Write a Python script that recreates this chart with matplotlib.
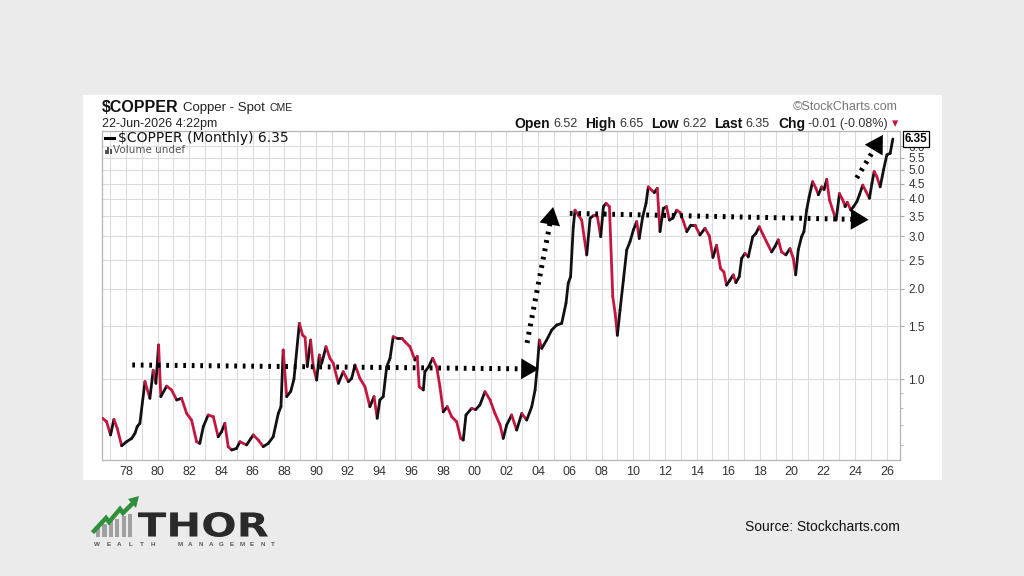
import numpy as np
import matplotlib
matplotlib.use("Agg")
import matplotlib.pyplot as plt
from matplotlib.collections import LineCollection
from matplotlib.patches import Rectangle, PathPatch, Polygon
from matplotlib.lines import Line2D
from matplotlib.ticker import FixedLocator, NullFormatter, FixedFormatter
from matplotlib.textpath import TextPath
from matplotlib.font_manager import FontProperties
from matplotlib.transforms import Affine2D, blended_transform_factory

plt.rcParams['font.family'] = ['Liberation Sans', 'DejaVu Sans']

# ---------------- data ----------------
years = [
    1976.53, 1976.78, 1977.03, 1977.24, 1977.45, 1977.73, 1978.04, 1978.36, 1978.57, 1978.71,
    1978.88, 1979.20, 1979.51, 1979.72, 1979.89, 1980.06, 1980.20, 1980.57, 1980.88, 1981.20,
    1981.51, 1981.83, 1982.14, 1982.46, 1982.66, 1982.88, 1983.19, 1983.51, 1983.82, 1984.03,
    1984.24, 1984.45, 1984.67, 1984.98, 1985.19, 1985.61, 1986.03, 1986.35, 1986.66, 1986.98,
    1987.29, 1987.61, 1987.78, 1987.92, 1988.14, 1988.40, 1988.60, 1988.94, 1989.15, 1989.30,
    1989.44, 1989.65, 1989.82, 1990.03, 1990.20, 1990.35, 1990.62, 1990.87, 1991.08, 1991.40,
    1991.71, 1992.03, 1992.24, 1992.45, 1992.76, 1993.08, 1993.39, 1993.65, 1993.85, 1994.02,
    1994.23, 1994.45, 1994.66, 1994.86, 1995.11, 1995.40, 1995.60, 1995.92, 1996.23, 1996.38,
    1996.50, 1996.76, 1996.86, 1997.10, 1997.35, 1997.60, 1997.81, 1998.02, 1998.27, 1998.55,
    1998.86, 1999.12, 1999.28, 1999.45, 1999.81, 2000.06, 2000.33, 2000.65, 2000.97, 2001.28,
    2001.60, 2001.80, 2002.02, 2002.33, 2002.65, 2002.97, 2003.28, 2003.60, 2003.81, 2003.95,
    2004.08, 2004.23, 2004.54, 2004.86, 2005.17, 2005.49, 2005.76, 2005.90, 2006.05, 2006.22,
    2006.33, 2006.54, 2006.75, 2007.07, 2007.28, 2007.53, 2007.74, 2007.95, 2008.12, 2008.29,
    2008.50, 2008.71, 2008.86, 2009.00, 2009.17, 2009.38, 2009.59, 2009.80, 2010.01, 2010.22,
    2010.38, 2010.60, 2010.81, 2010.95, 2011.17, 2011.33, 2011.52, 2011.69, 2011.90, 2012.10,
    2012.28, 2012.50, 2012.75, 2012.96, 2013.17, 2013.38, 2013.63, 2013.90, 2014.21, 2014.53,
    2014.80, 2015.03, 2015.26, 2015.51, 2015.72, 2015.89, 2016.10, 2016.31, 2016.48, 2016.69,
    2016.84, 2017.05, 2017.26, 2017.54, 2017.74, 2017.95, 2018.20, 2018.52, 2018.73, 2018.94,
    2019.15, 2019.36, 2019.63, 2019.89, 2020.10, 2020.25, 2020.41, 2020.62, 2020.77, 2020.94,
    2021.10, 2021.32, 2021.53, 2021.68, 2021.89, 2022.04, 2022.21, 2022.38, 2022.59, 2022.80,
    2023.01, 2023.22, 2023.37, 2023.50, 2023.73, 2023.90, 2024.11, 2024.27, 2024.48, 2024.69,
    2024.90, 2025.06, 2025.20, 2025.37, 2025.58, 2025.79, 2026.00, 2026.21, 2026.38,
]
prices = [
    0.739, 0.720, 0.650, 0.733, 0.684, 0.598, 0.617, 0.633, 0.658, 0.693,
    0.711, 0.980, 0.862, 1.070, 0.967, 1.300, 0.873, 0.947, 0.919, 0.851,
    0.862, 0.767, 0.729, 0.617, 0.609, 0.693, 0.758, 0.748, 0.641, 0.666,
    0.711, 0.594, 0.579, 0.586, 0.617, 0.602, 0.650, 0.625, 0.594, 0.609,
    0.641, 0.767, 0.808, 1.250, 0.873, 0.910, 1.000, 1.535, 1.400, 1.380,
    1.100, 1.350, 1.100, 0.992, 1.203, 1.128, 1.282, 1.173, 1.128, 0.967,
    1.058, 0.980, 1.005, 1.114, 1.005, 0.942, 0.808, 0.873, 0.739, 0.851,
    0.873, 1.099, 1.173, 1.385, 1.368, 1.368, 1.332, 1.282, 1.157, 1.190,
    0.942, 0.919, 1.058, 1.100, 1.173, 1.099, 0.942, 0.777, 0.808, 0.748,
    0.720, 0.633, 0.625, 0.758, 0.798, 0.790, 0.819, 0.907, 0.851, 0.767,
    0.702, 0.633, 0.702, 0.758, 0.675, 0.767, 0.729, 0.808, 0.919, 1.099,
    1.350, 1.266, 1.350, 1.458, 1.515, 1.535, 1.792, 2.090, 2.200, 3.230,
    3.670, 3.530, 3.400, 2.600, 3.450, 3.530, 3.490, 2.990, 3.770, 3.870,
    3.770, 1.886, 1.660, 1.400, 1.700, 2.140, 2.700, 2.880, 3.150, 3.360,
    2.950, 3.490, 3.870, 4.390, 4.280, 4.200, 4.340, 3.110, 3.720, 3.770,
    3.400, 3.450, 3.670, 3.600, 3.360, 3.110, 3.270, 3.270, 3.030, 3.190,
    3.010, 2.550, 2.800, 2.340, 2.280, 2.060, 2.140, 2.230, 2.100, 2.200,
    2.530, 2.630, 2.560, 2.990, 3.070, 3.230, 3.030, 2.800, 2.660, 2.770,
    2.920, 2.660, 2.600, 2.730, 2.530, 2.230, 2.700, 2.990, 3.110, 3.670,
    4.070, 4.570, 4.340, 4.130, 4.390, 4.300, 4.650, 3.970, 3.670, 3.400,
    4.170, 3.970, 3.770, 3.900, 3.670, 3.770, 3.920, 4.130, 4.450, 4.230,
    4.020, 4.510, 4.940, 4.750, 4.390, 5.000, 5.620, 5.680, 6.350,
]

x_ticks = list(range(1978, 2027, 2))
x_tick_labels = ['%02d' % (y % 100) for y in x_ticks]
y_ticks = [1.0, 1.5, 2.0, 2.5, 3.0, 3.5, 4.0, 4.5, 5.0, 5.5, 6.0]
y_tick_labels = ['%.1f' % v for v in y_ticks]
y_minor = [0.6, 0.7, 0.8, 0.9]

# annotation arrows (start, tip) in (year, price)
arrow_starts = [(1978.4, 1.114), (2003.3, 1.32), (2006.0, 3.58), (2024.1, 4.70)]
arrow_tips = [(2004.05, 1.08), (2004.95, 3.76), (2024.85, 3.41), (2025.75, 6.55)]

last_price = '6.35'

# ---------------- figure ----------------
W, H = 1024, 576
fig = plt.figure(figsize=(W / 100, H / 100), dpi=100)
fig.patch.set_facecolor('#ebebeb')
fig.add_artist(Rectangle((83 / W, 1 - 480 / H), (942 - 83) / W, (480 - 95) / H,
                         transform=fig.transFigure, facecolor='white',
                         edgecolor='none', zorder=0))

ax = fig.add_axes([102 / W, 1 - 460 / H, 798 / W, 329 / H])
ax.set_facecolor('white')
ax.set_yscale('log')
ax.set_xlim(1976.49, 2026.83)
ax.set_ylim(0.536, 6.75)

ax.xaxis.set_major_locator(FixedLocator(x_ticks))
ax.xaxis.set_major_formatter(FixedFormatter(x_tick_labels))
ax.xaxis.set_minor_locator(FixedLocator(list(range(1977, 2027))))
ax.yaxis.set_major_locator(FixedLocator(y_ticks))
ax.yaxis.set_major_formatter(FixedFormatter(y_tick_labels))
ax.yaxis.set_minor_locator(FixedLocator(y_minor))
ax.yaxis.set_minor_formatter(NullFormatter())
ax.yaxis.tick_right()

ax.tick_params(axis='x', which='both', length=0, pad=4, labelsize=9, labelcolor='#333333')
ax.tick_params(axis='y', which='major', length=3, pad=3, color='#aaaaaa',
               labelsize=8.5, labelcolor='#333333')
ax.tick_params(axis='y', which='minor', length=2, color='#aaaaaa')

ax.grid(True, which='major', axis='both', color='#dcdcdc', lw=0.8)
ax.grid(True, which='minor', axis='x', color='#dcdcdc', lw=0.8)
ax.set_axisbelow(True)
for s in ax.spines.values():
    s.set_color('#b5b5b5')
    s.set_linewidth(0.9)

# price line: black for up months, red for down months
pts = np.column_stack([years, prices])
segs = np.stack([pts[:-1], pts[1:]], axis=1)
cols = ['#111111' if prices[i + 1] >= prices[i] else '#c4173f' for i in range(len(prices) - 1)]
lc = LineCollection(segs, colors=cols, linewidths=2.0, capstyle='round', joinstyle='round', zorder=3)
ax.add_collection(lc)

# dotted arrows
for st, tp_ in zip(arrow_starts, arrow_tips):
    p0 = ax.transData.transform(st)
    p1 = ax.transData.transform(tp_)
    L = np.hypot(*(p1 - p0))
    end = ax.transData.inverted().transform(p0 + (1 - 9 / L) * (p1 - p0))
    ax.plot([st[0], end[0]], [st[1], end[1]], color='black', lw=3.6,
            linestyle=(0, (0.55, 1.15)), dash_capstyle='butt', zorder=4)
    ax.annotate('', xy=tp_, xytext=st,
                arrowprops=dict(arrowstyle='-|>,head_length=0.85,head_width=0.5',
                                mutation_scale=15, color='black', lw=0,
                                shrinkA=0, shrinkB=0), zorder=5)

# last-price tag
tr = blended_transform_factory(ax.transAxes, ax.transData)
ax.text(1.006, 6.35, last_price, transform=tr, ha='left', va='center', fontsize=8.5,
        fontweight='bold', color='black', clip_on=False, zorder=10,
        bbox=dict(boxstyle='square,pad=0.15', fc='white', ec='black', lw=0.9))

# ---------------- header texts ----------------
renderer = fig.canvas.get_renderer()


def seq_text(pieces, x_px, y_px, align='left'):
    items = []
    x = 0.0
    for s, kw, gap in pieces:
        t = fig.text(0, 1 - y_px / H, s, va='center', ha='left', **kw)
        w = t.get_window_extent(renderer).width
        items.append((t, x))
        x += w + gap
    total = x
    x0 = x_px if align == 'left' else x_px - total
    for t, off in items:
        t.set_x((x0 + off) / W)


B = dict(fontsize=10, fontweight='bold', color='#111111')
N = dict(fontsize=9, color='#333333')
seq_text([('\\$COPPER', dict(fontsize=11.5, fontweight='bold', color='#111111'), 4),
          ('Copper - Spot', dict(fontsize=9.5, color='#222222'), 5),
          ('CME', dict(fontsize=7.5, color='#222222'), 0)], 102, 108)
fig.text(102 / W, 1 - 124 / H, '22-Jun-2026 4:22pm', fontsize=9, color='#222222', va='center')
fig.text(898 / W, 1 - 107 / H, '\u00a9StockCharts.com', fontsize=9, color='#777777',
         va='center', ha='right')
seq_text([('Open', B, 3), ('6.52', N, 8), ('High', B, 3), ('6.65', N, 8),
          ('Low', B, 3), ('6.22', N, 8), ('Last', B, 3), ('6.35', N, 8),
          ('Chg', B, 3), ('-0.01 (-0.08%)', N, 4),
          ('\u25be', dict(fontsize=9, color='#c4173f', family=['DejaVu Sans']), 0)],
         898, 124, align='right')

# legend inside the plot
fig.add_artist(Line2D([105 / W, 114 / W], [1 - 138 / H, 1 - 138 / H], color='black', lw=2.2))
fig.text(118 / W, 1 - 138 / H, '\\$COPPER (Monthly) 6.35', fontsize=10, color='#111111',
         va='center', family=['DejaVu Sans'])
for i, hgt in enumerate([4, 7, 5]):
    fig.add_artist(Rectangle(((105 + i * 2.4) / W, 1 - 154 / H), 1.8 / W, hgt / H,
                             transform=fig.transFigure, facecolor='#555555', edgecolor='none'))
fig.text(113 / W, 1 - 150 / H, 'Volume undef', fontsize=7.5, color='#555555',
         va='center', family=['DejaVu Sans'])

# ---------------- footer: logo and source ----------------
tp = TextPath((0, 0), 'THOR', size=1, prop=FontProperties(family='DejaVu Sans', weight='bold'))
bb = tp.get_extents()
sx, sy = 130 / bb.width, 25 / bb.height
trans = (Affine2D().translate(-bb.x0, -bb.y0).scale(sx / W, sy / H)
         .translate(138 / W, (H - 537) / H) + fig.transFigure)
fig.add_artist(PathPatch(tp, transform=trans, facecolor='#2a2a2a', edgecolor='none'))

for i in range(6):
    top = 526 - i * 2.4
    fig.add_artist(Rectangle(((96 + i * 6.4) / W, (H - 537) / H), 4.2 / W, (537 - top) / H,
                             transform=fig.transFigure, facecolor='#a0a0a0', edgecolor='none'))
zig = [(94, 531), (106, 518), (109, 522), (120, 509), (123, 513), (133, 503)]
fig.add_artist(Line2D([p[0] / W for p in zig], [1 - p[1] / H for p in zig],
                      color='#2f8f3a', lw=3.2, solid_joinstyle='miter'))
fig.add_artist(Polygon([(128 / W, 1 - 499 / H), (139 / W, 1 - 496 / H), (136 / W, 1 - 508 / H)],
                       closed=True, transform=fig.transFigure, facecolor='#2f8f3a', edgecolor='none'))

for i, ch in enumerate('WEALTH'):
    fig.text((97 + i * 11.2) / W, 1 - 545 / H, ch, fontsize=4.5, color='#555555',
             ha='center', va='center', fontweight='bold')
for i, ch in enumerate('MANAGEMENT'):
    fig.text((180 + i * 10.3) / W, 1 - 545 / H, ch, fontsize=4.5, color='#555555',
             ha='center', va='center', fontweight='bold')

fig.text(745 / W, 1 - 527 / H, 'Source: Stockcharts.com', fontsize=10, color='#111111', va='center')

fig.savefig('out.png', dpi=100, facecolor=fig.get_facecolor())
